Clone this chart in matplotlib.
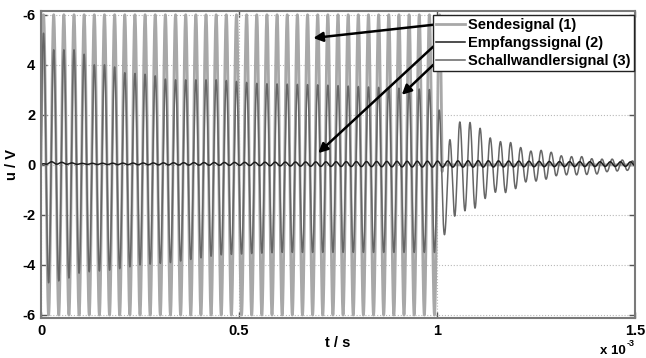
import numpy as np
import matplotlib
matplotlib.use("Agg")
import matplotlib.pyplot as plt

plt.rcParams['font.family'] = ['Liberation Sans', 'DejaVu Sans']
plt.rcParams['font.weight'] = 'bold'

# ---- data ----
carrier_freq_hz = 39000.0
send_amp = 6.0
send_end_ms = 1.013

# Schallwandlersignal (3): upper / lower envelope (time in ms, value in V)
s3_hi_t = [0, 0.005, 0.03, 0.10, 0.13, 0.18, 0.20, 0.28, 0.32, 0.45, 0.55, 0.70, 0.85, 1.00,
           1.02, 1.045, 1.07, 1.095, 1.12, 1.145, 1.17, 1.195, 1.22, 1.245, 1.27, 1.295, 1.32,
           1.37, 1.395, 1.45, 1.48, 1.50]
s3_hi_v = [5.5, 5.3, 4.6, 4.6, 4.0, 4.0, 3.7, 3.6, 3.4, 3.4, 3.25, 3.2, 3.1, 3.0,
           0.3, 1.73, 1.70, 1.69, 1.28, 0.93, 0.93, 0.87, 0.60, 0.53, 0.60, 0.47, 0.33,
           0.33, 0.23, 0.23, 0.17, 0.15]
s3_lo_t = [0, 0.02, 0.06, 0.10, 0.18, 0.25, 0.33, 0.45, 0.60, 0.80, 1.00,
           1.033, 1.058, 1.083, 1.108, 1.133, 1.158, 1.183, 1.208, 1.233, 1.258, 1.283, 1.308,
           1.36, 1.41, 1.43, 1.50]
s3_lo_v = [-5.0, -4.7, -4.6, -4.3, -4.2, -4.0, -3.9, -3.6, -3.5, -3.5, -3.5,
           -2.27, -1.8, -1.87, -1.6, -1.13, -1.07, -1.13, -0.84, -0.6, -0.67, -0.53, -0.4,
           -0.4, -0.36, -0.27, -0.2]

# Empfangssignal (2): amplitude and centre (time in ms)
s2_t = [0, 0.02, 0.1, 0.3, 0.5, 0.7, 0.9, 1.0, 1.1, 1.3, 1.5]
s2_amp = [0.0, 0.05, 0.02, 0.04, 0.06, 0.09, 0.11, 0.12, 0.13, 0.10, 0.09]
s2_mid = [0.02, 0.08, 0.04, 0.04, 0.04, 0.03, 0.03, 0.03, 0.04, 0.03, 0.03]

x_ticks = [0, 0.5e-3, 1.0e-3, 1.5e-3]
x_tick_labels = ['0', '0.5', '1', '1.5']
y_ticks = [-6, -4, -2, 0, 2, 4, 6]
y_tick_labels = ['-6', '-4', '-2', '0', '2', '4', '-6']
labels = ['Sendesignal (1)', 'Empfangssignal (2)', 'Schallwandlersignal (3)']

# ---- build signals ----
t = np.linspace(0, 1.5e-3, 30001)
t_ms = t * 1e3
carrier = np.sin(2 * np.pi * carrier_freq_hz * t)

send = np.where(t_ms <= send_end_ms, send_amp * carrier, 0.0)

hi = np.interp(t_ms, s3_hi_t, s3_hi_v)
lo = np.interp(t_ms, s3_lo_t, s3_lo_v)
s3 = (hi + lo) / 2 + (hi - lo) / 2 * carrier

a2 = np.interp(t_ms, s2_t, s2_amp)
m2 = np.interp(t_ms, s2_t, s2_mid)
s2 = m2 + a2 * np.sin(2 * np.pi * carrier_freq_hz * t + 1.2)

# ---- figure ----
fig = plt.figure(figsize=(6.46, 3.58), dpi=100)
W, H = 646, 358
ax = fig.add_axes([41 / W, 1 - 318 / H, (635 - 41) / W, (318 - 11) / H])

c_send = '#a8a8a8'
c_s3 = '#666666'
c_s2 = '#1c1c1c'
l1, = ax.plot(t, send, color=c_send, lw=2.0)
l3, = ax.plot(t, s3, color=c_s3, lw=1.1)
l2, = ax.plot(t, s2, color=c_s2, lw=1.1)

ax.set_xlim(0, 1.5e-3)
ax.set_ylim(-6.12, 6.15)
ax.set_xticks(x_ticks)
ax.set_xticklabels(x_tick_labels, fontsize=10.5, fontweight='bold')
ax.set_yticks(y_ticks)
ax.set_yticklabels(y_tick_labels, fontsize=10.5, fontweight='bold')
ax.tick_params(direction='in', length=4, width=1, color='#555555', top=True, right=True, pad=4)
ax.grid(True, linestyle=':', color='#b8b8b8', lw=0.8)
for s in ax.spines.values():
    s.set_color('#7a7a7a')
    s.set_linewidth(1.5)

ax.set_xlabel('t / s', fontsize=10.5, fontweight='bold', labelpad=-1)
ax.set_ylabel('u / V', fontsize=10.5, fontweight='bold', labelpad=2)

fig.text(600 / W, 1 - 351 / H, 'x 10', fontsize=9.5, fontweight='bold', ha='left', va='center')
fig.text(627 / W, 1 - 343 / H, '-3', fontsize=6.5, fontweight='bold', ha='left', va='center')

leg = ax.legend([l1, l2, l3], labels, loc='upper right',
                bbox_to_anchor=(0.998, 0.988), fontsize=10.5, handlelength=2.0,
                handletextpad=0.15, labelspacing=0.25, borderpad=0.25, borderaxespad=0,
                fancybox=False, framealpha=1, edgecolor='#222222')
leg.get_frame().set_linewidth(1.0)
for txt in leg.get_texts():
    txt.set_fontweight('bold')

# arrows from the legend to the curves
arrows = [((0.9907e-3, 5.6), (0.6876e-3, 5.07)),
          ((0.9907e-3, 4.73), (0.700e-3, 0.47)),
          ((0.9907e-3, 4.0), (0.911e-3, 2.8))]
for (x0, y0), (x1, y1) in arrows:
    ax.annotate('', xy=(x1, y1), xytext=(x0, y0),
                arrowprops=dict(arrowstyle='-|>', color='black', lw=1.8,
                                mutation_scale=14, shrinkA=0, shrinkB=0))

fig.savefig('out.png', dpi=100)
